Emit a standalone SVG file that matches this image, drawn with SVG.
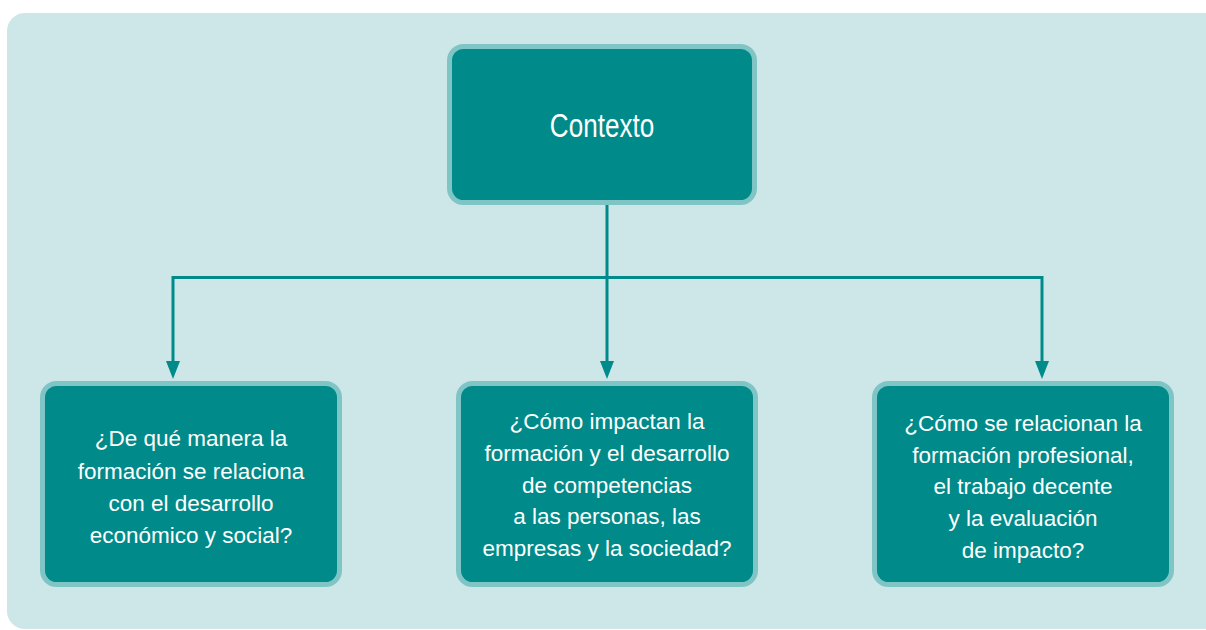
<svg xmlns="http://www.w3.org/2000/svg" width="1206" height="630" viewBox="0 0 1206 630">
<defs>
<style>
.bg{fill:#cde7e8}
.node{fill:#008b8a;stroke:#80c5c5;stroke-width:5}
.t{fill:#ffffff;font-family:"Liberation Sans",Arial,sans-serif;text-anchor:middle}
.title{font-size:33px}
.q{font-size:22.5px}
.conn{fill:none;stroke:#008b8a;stroke-width:3}
.head{fill:#008b8a}
</style>
</defs>
<rect class="bg" x="7" y="13" width="1215" height="616" rx="18"/>
<g id="connectors">
<path class="conn" d="M607,205 V277.5"/>
<path class="conn" d="M173,277.5 H1042"/>
<path class="conn" d="M173,276 V362"/>
<path class="conn" d="M607,277 V362"/>
<path class="conn" d="M1042,276 V362"/>
<path class="head" d="M166,361 L180,361 L173,379 Z"/>
<path class="head" d="M600,361 L614,361 L607,379 Z"/>
<path class="head" d="M1035,361 L1049,361 L1042,379 Z"/>
</g>
<g id="node-contexto">
<rect class="node" x="449.5" y="46.5" width="305" height="156" rx="14"/>
<text class="t title" transform="translate(602,137) scale(0.79,1)" x="0" y="0">Contexto</text>
</g>
<g id="node-q1">
<rect class="node" x="42.5" y="383.5" width="297" height="201" rx="14"/>
<text class="t q" x="191"><tspan x="191" y="446">¿De qué manera la</tspan><tspan x="191" y="479">formación se relaciona</tspan><tspan x="191" y="511">con el desarrollo</tspan><tspan x="191" y="543">económico y social?</tspan></text>
</g>
<g id="node-q2">
<rect class="node" x="458.5" y="383.5" width="297" height="201" rx="14"/>
<text class="t q" x="607"><tspan x="607" y="429">¿Cómo impactan la</tspan><tspan x="607" y="461">formación y el desarrollo</tspan><tspan x="607" y="493">de competencias</tspan><tspan x="607" y="524">a las personas, las</tspan><tspan x="607" y="556">empresas y la sociedad?</tspan></text>
</g>
<g id="node-q3">
<rect class="node" x="874.5" y="383.5" width="297" height="201" rx="14"/>
<text class="t q" x="1023"><tspan x="1023" y="431">¿Cómo se relacionan la</tspan><tspan x="1023" y="463">formación profesional,</tspan><tspan x="1023" y="494">el trabajo decente</tspan><tspan x="1023" y="526">y la evaluación</tspan><tspan x="1023" y="558">de impacto?</tspan></text>
</g>
</svg>
